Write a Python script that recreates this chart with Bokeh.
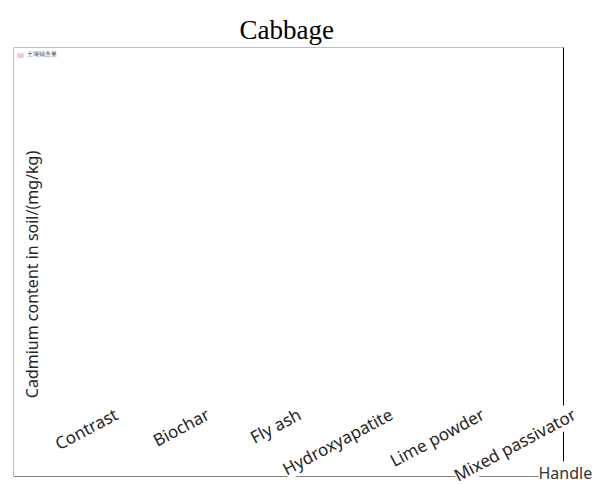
import math
from bokeh.plotting import figure
from bokeh.models import Range1d, Label, LabelSet, ColumnDataSource, BoxAnnotation
from bokeh.core.properties import value
from bokeh.embed import file_html
from bokeh.resources import INLINE

categories = ["Contrast", "Biochar", "Fly ash", "Hydroxyapatite", "Lime powder", "Mixed passivator"]
cadmium = [0, 0, 0, 0, 0, 0]
series_name = "土壤镉含量"
title_text = "Cabbage"
y_label = "Cadmium content in soil/(mg/kg)"
x_label = "Handle"

n = len(categories)
xs = [i + 0.5 for i in range(n)]          # category slots 0..n
ymax = 1.0

# plot box is 550x429 px; the drawing area extends a little further right and below
box_w, area_w = 550, 582
box_h, area_h = 429, 437
p = figure(width=599, height=484,
           x_range=Range1d(0, n * area_w / box_w),
           y_range=Range1d(-ymax * (area_h - box_h) / box_h, ymax),
           x_axis_location=None, y_axis_location=None,
           output_backend="svg", toolbar_location=None,
           min_border_left=13, min_border_right=4,
           min_border_top=47, min_border_bottom=0)
p.grid.visible = False
p.outline_line_color = None
p.background_fill_color = "white"
p.border_fill_color = "white"

p.title.text = title_text
p.title.text_font = "Liberation Serif"
p.title.text_font_size = "27px"
p.title.text_font_style = "normal"
p.title.text_color = "black"
p.title.align = "left"
p.title.offset = 226
p.title.standoff = 6

# plot box: grey frame, black right edge
p.add_layout(BoxAnnotation(left=0, right=n, bottom=0, top=ymax,
                           fill_alpha=0, line_color="#7f7f7f", line_alpha=1, line_width=1))
p.add_layout(BoxAnnotation(left=n, right=n, bottom=0, top=ymax,
                           fill_alpha=0, line_color="black", line_alpha=1, line_width=1))

src = ColumnDataSource(dict(x=xs, name=categories, top=cadmium, base=[0] * n))
p.vbar(x="x", top="top", width=0.6, source=src,
       fill_color="#f6c9c9", line_color=None, legend_label=series_name)

p.legend.location = "top_left"
p.legend.margin = 3
p.legend.padding = 2
p.legend.label_text_font_size = "6px"
p.legend.label_height = 6
p.legend.glyph_height = 6
p.legend.glyph_width = 8
p.legend.label_standoff = 3
p.legend.border_line_color = None
p.legend.background_fill_alpha = 0

# category labels, right-aligned and rotated
p.add_layout(LabelSet(x="x", y="base", text="name", source=src,
                      angle=math.radians(28), text_align="right", text_baseline="alphabetic",
                      x_offset=60, y_offset=58,
                      text_font=value("Noto Sans"), text_font_size=value("17px"),
                      text_color="#262626",
                      background_fill_color="white"))

p.add_layout(Label(x=18, y=210, x_units="screen", y_units="screen",
                   text=y_label, angle=math.pi / 2,
                   text_align="center", text_baseline="middle",
                   text_font="Noto Sans", text_font_size="16px", text_color="#262626"))

p.add_layout(Label(x=525, y=12, x_units="screen", y_units="screen",
                   text=x_label, text_align="left", text_baseline="alphabetic",
                   text_font="Noto Sans", text_font_size="16px", text_color="#333333",
                   background_fill_color="white"))

open("out.html", "w").write(file_html(p, INLINE))
